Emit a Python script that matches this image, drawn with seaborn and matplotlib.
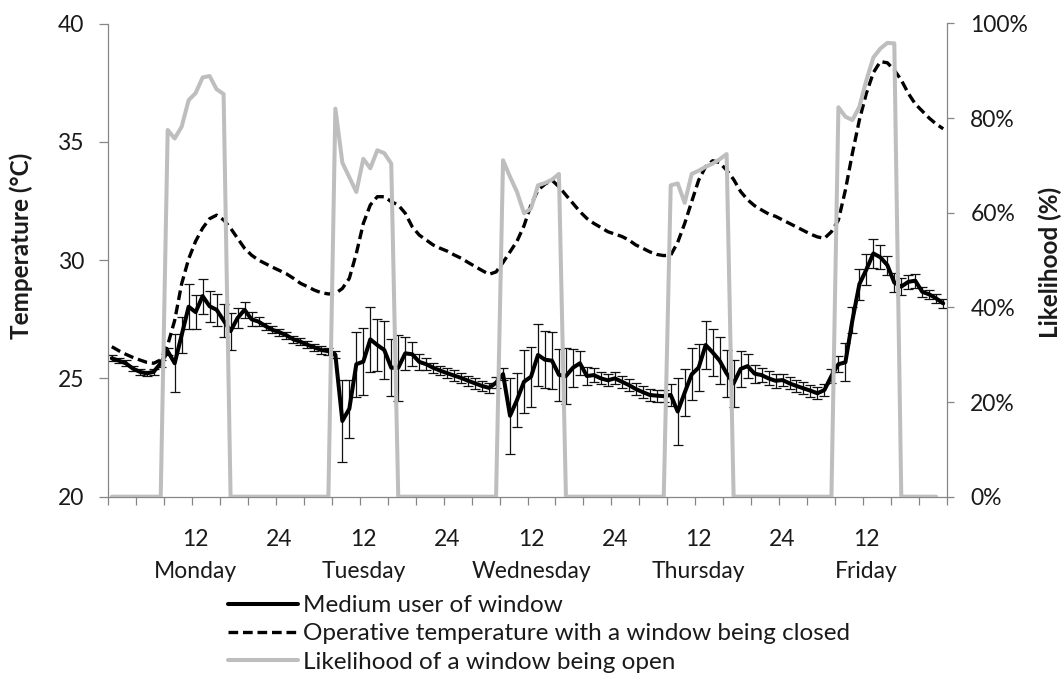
import matplotlib
matplotlib.use("Agg")
import matplotlib.pyplot as plt
import seaborn as sns
import pandas as pd
from matplotlib.lines import Line2D
from matplotlib.ticker import FixedLocator, FuncFormatter

# ---------------- data ----------------
hours = list(range(1, 121))

medium_user = [
    25.85, 25.75, 25.64, 25.42, 25.28, 25.21, 25.28, 25.64, 26.15, 25.64, 26.83, 28.03,
    27.80, 28.48, 28.05, 27.90, 27.45, 27.00, 27.55, 27.90, 27.50, 27.40, 27.21, 27.05,
    26.95, 26.82, 26.65, 26.55, 26.42, 26.31, 26.20, 26.15, 26.00, 23.20, 23.72, 25.60,
    25.71, 26.65, 26.41, 26.20, 25.45, 25.45, 26.06, 26.02, 25.70, 25.60, 25.45, 25.33,
    25.22, 25.12, 25.02, 24.90, 24.79, 24.68, 24.60, 24.82, 25.18, 23.42, 24.09, 24.86,
    25.07, 25.99, 25.79, 25.75, 25.15, 25.10, 25.45, 25.64, 25.10, 25.14, 25.00, 24.92,
    25.00, 24.86, 24.72, 24.55, 24.42, 24.30, 24.27, 24.25, 24.30, 23.60, 24.40, 25.17,
    25.46, 26.41, 26.10, 25.75, 25.21, 24.79, 25.40, 25.52, 25.20, 25.14, 25.00, 24.90,
    24.93, 24.79, 24.68, 24.58, 24.48, 24.37, 24.51, 25.10, 25.60, 25.68, 27.45, 28.98,
    29.60, 30.28, 30.12, 29.79, 29.05, 28.88, 29.08, 29.13, 28.66, 28.55, 28.38, 28.17,
]

medium_err = [
    0.12, 0.12, 0.12, 0.12, 0.12, 0.12, 0.12, 0.15, 0.15, 1.23, 0.75, 0.95,
    0.72, 0.74, 0.66, 0.67, 0.70, 0.78, 0.42, 0.35, 0.30, 0.20, 0.15, 0.15,
    0.15, 0.15, 0.15, 0.15, 0.15, 0.15, 0.15, 0.15, 0.15, 1.75, 1.23, 1.37,
    1.40, 1.36, 1.10, 1.23, 1.20, 1.40, 0.70, 0.50, 0.35, 0.25, 0.22, 0.20,
    0.22, 0.22, 0.22, 0.22, 0.22, 0.22, 0.22, 0.22, 0.25, 1.60, 1.13, 1.34,
    1.27, 1.30, 1.20, 1.20, 1.10, 1.20, 0.80, 0.50, 0.40, 0.30, 0.25, 0.25,
    0.25, 0.25, 0.25, 0.25, 0.25, 0.25, 0.25, 0.25, 0.45, 1.40, 1.00, 1.10,
    1.00, 1.02, 1.00, 1.00, 1.00, 1.00, 0.75, 0.50, 0.38, 0.30, 0.30, 0.30,
    0.25, 0.25, 0.25, 0.25, 0.25, 0.25, 0.25, 0.30, 0.35, 0.80, 0.55, 0.65,
    0.65, 0.60, 0.50, 0.40, 0.40, 0.35, 0.30, 0.30, 0.20, 0.20, 0.20, 0.20,
]

operative_closed = [
    26.34, 26.17, 26.02, 25.89, 25.78, 25.68, 25.64, 25.78, 26.41, 27.45, 29.00, 30.05,
    30.80, 31.35, 31.75, 31.90, 31.70, 31.35, 30.92, 30.50, 30.21, 30.00, 29.85, 29.70,
    29.56, 29.42, 29.23, 29.02, 28.88, 28.73, 28.62, 28.57, 28.59, 28.80, 29.23, 30.28,
    31.55, 32.33, 32.68, 32.68, 32.47, 32.33, 31.98, 31.41, 31.06, 30.85, 30.64, 30.50,
    30.38, 30.22, 30.08, 29.90, 29.73, 29.56, 29.40, 29.50, 29.90, 30.35, 30.80, 31.45,
    32.33, 32.96, 33.21, 33.38, 33.10, 32.75, 32.40, 32.05, 31.76, 31.55, 31.38, 31.20,
    31.10, 31.00, 30.85, 30.64, 30.50, 30.35, 30.24, 30.19, 30.21, 30.75, 31.55, 32.47,
    33.38, 33.95, 34.20, 34.12, 33.80, 33.41, 32.90, 32.55, 32.30, 32.12, 31.95, 31.85,
    31.70, 31.55, 31.40, 31.25, 31.10, 30.98, 30.92, 31.20, 31.69, 32.96, 34.51, 35.92,
    37.05, 37.92, 38.39, 38.34, 38.03, 37.61, 37.05, 36.60, 36.30, 36.00, 35.75, 35.55,
]

likelihood_hours = list(range(1, 120))
likelihood_open = [
    0, 0, 0, 0, 0, 0, 0, 0, 77.5, 75.7, 78.2, 83.8,
    85.3, 88.6, 88.9, 86.1, 85.1, 0, 0, 0, 0, 0, 0, 0,
    0, 0, 0, 0, 0, 0, 0, 0, 82.0, 70.6, 67.5, 64.4,
    71.4, 69.4, 73.2, 72.6, 70.4, 0, 0, 0, 0, 0, 0, 0,
    0, 0, 0, 0, 0, 0, 0, 0, 71.1, 67.6, 64.4, 59.9,
    60.9, 65.8, 66.3, 67.0, 68.2, 0, 0, 0, 0, 0, 0, 0,
    0, 0, 0, 0, 0, 0, 0, 0, 65.8, 66.2, 62.1, 68.2,
    68.9, 69.7, 70.4, 71.3, 72.4, 0, 0, 0, 0, 0, 0, 0,
    0, 0, 0, 0, 0, 0, 0, 0, 82.3, 80.3, 79.6, 82.4,
    88.0, 92.8, 94.7, 95.9, 95.8, 0, 0, 0, 0, 0, 0,
]

hour_label_pos = [13, 25, 37, 49, 61, 73, 85, 97, 109]
hour_labels = ["12", "24", "12", "24", "12", "24", "12", "24", "12"]
day_pos = [13, 37, 61, 85, 109]
day_names = ["Monday", "Tuesday", "Wednesday", "Thursday", "Friday"]
temp_ticks = [20, 25, 30, 35, 40]
pct_ticks = [0, 20, 40, 60, 80, 100]
legend_labels = [
    "Medium user of window",
    "Operative temperature with a window being closed",
    "Likelihood of a window being open",
]

# ---------------- style ----------------
sns.set_theme(style="white")
plt.rcParams["font.family"] = ["Lato", "DejaVu Sans"]
TXT = "#1a1a1a"
AX = "#868686"
GRAY = "#BEBEBE"
DASH = (0, (2.9, 1.45))

W, H = 1063, 691
fig = plt.figure(figsize=(W / 100, H / 100), dpi=100)
fig.patch.set_facecolor("white")
L, R, T, B = 108.3, 946.7, 23.5, 496.7
ax = fig.add_axes([L / W, 1 - B / H, (R - L) / W, (B - T) / H])

df = pd.DataFrame({"hour": hours, "medium": medium_user, "err": medium_err,
                   "closed": operative_closed})
dfl = pd.DataFrame({"hour": likelihood_hours, "likelihood": likelihood_open})

ax.errorbar(df["hour"], df["medium"], yerr=df["err"], fmt="none", ecolor="#111111",
            elinewidth=0.9, capsize=3.6, capthick=0.9, zorder=2)
sns.lineplot(data=df, x="hour", y="medium", ax=ax, color="black", linewidth=2.9, zorder=3)
sns.lineplot(data=df, x="hour", y="closed", ax=ax, color="black", linewidth=2.4,
             linestyle=DASH, zorder=3)

ax.set_xlim(0.5, 120.5)
ax.set_ylim(20, 40)

ax2 = ax.twinx()
sns.lineplot(data=dfl, x="hour", y="likelihood", ax=ax2, color=GRAY, linewidth=2.9)
ax2.set_ylim(0, 100)
ax2.set_xlim(0.5, 120.5)

# spines
for s in ["top", "right"]:
    ax.spines[s].set_visible(False)
for s in ["top", "left", "bottom"]:
    ax2.spines[s].set_visible(False)
for a, s in [(ax, "left"), (ax, "bottom"), (ax2, "right")]:
    a.spines[s].set_color(AX)
    a.spines[s].set_linewidth(0.9)

# x axis
ax.xaxis.set_major_locator(FixedLocator([0.5 + 4 * k for k in range(31)]))
ax.xaxis.set_major_formatter(FuncFormatter(lambda v, p: ""))
ax.xaxis.set_minor_locator(FixedLocator(hour_label_pos))
ax.set_xticklabels(hour_labels, minor=True)
ax.tick_params(axis="x", which="major", bottom=True, length=6, width=0.9, color=AX,
               direction="out")
ax.tick_params(axis="x", which="minor", bottom=True, length=0, pad=23,
               labelsize=16.5, labelcolor=TXT)
for p, name in zip(day_pos, day_names):
    ax.text(p, (B - 572) / (B - T), name, transform=ax.get_xaxis_transform(),
            ha="center", va="center", fontsize=16.5, color=TXT)

# left y axis
ax.set_yticks(temp_ticks)
ax.set_yticklabels([str(t) for t in temp_ticks])
ax.tick_params(axis="y", left=True, length=6.5, width=0.9, color=AX, direction="out",
               pad=11, labelsize=16.5, labelcolor=TXT)
ax.set_xlabel("")
ax.set_ylabel("Temperature (°C)", fontsize=17.5, fontweight="bold", color=TXT)
ax.yaxis.set_label_coords((33 - L) / (R - L), (B - 246) / (B - T))

# right y axis
ax2.set_yticks(pct_ticks)
ax2.set_yticklabels([f"{p}%" for p in pct_ticks])
ax2.tick_params(axis="y", right=True, length=5, width=0.9, color=AX, direction="out",
                pad=12, labelsize=16.5, labelcolor=TXT)
ax2.set_xlabel("")
ax2.set_ylabel("Likelihood (%)", fontsize=17.5, fontweight="bold", color=TXT)
ax2.yaxis.set_label_coords((1039 - L) / (R - L), (B - 262) / (B - T))

# legend
handles = [
    Line2D([], [], color="black", linewidth=2.9),
    Line2D([], [], color="black", linewidth=2.4, linestyle=DASH),
    Line2D([], [], color=GRAY, linewidth=2.9),
]
fs = 17.5
fig.legend(handles, legend_labels, loc="upper left",
           bbox_to_anchor=(228 / W, 1 - 595 / H), frameon=False, borderpad=0,
           borderaxespad=0, handlelength=70 / (fs * 1.389), handletextpad=5 / (fs * 1.389),
           labelspacing=0.30, fontsize=fs, labelcolor=TXT)

fig.savefig("out.png", dpi=100, facecolor="white")
